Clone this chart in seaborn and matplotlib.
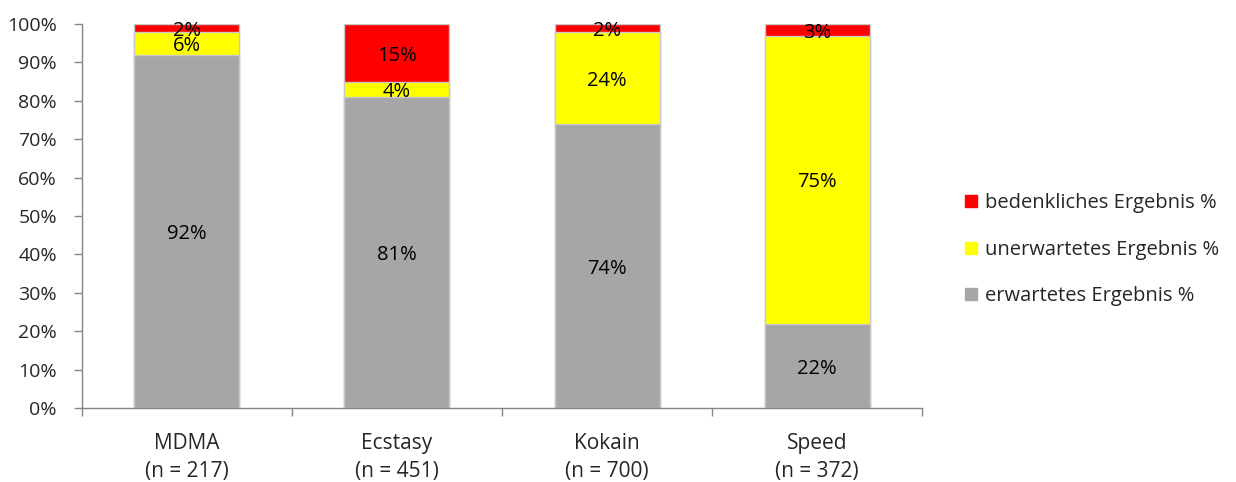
import matplotlib
matplotlib.use("Agg")
import matplotlib.pyplot as plt
from matplotlib.lines import Line2D
from matplotlib.ticker import MultipleLocator, FixedLocator, PercentFormatter
import seaborn as sns
import pandas as pd

# Test results per substance, in percent
substances = ["MDMA\n(n = 217)", "Ecstasy\n(n = 451)", "Kokain\n(n = 700)", "Speed\n(n = 372)"]
erwartet = [92, 81, 74, 22]
unerwartet = [6, 4, 24, 75]
bedenklich = [2, 15, 2, 3]

series_names = ["erwartetes Ergebnis %", "unerwartetes Ergebnis %", "bedenkliches Ergebnis %"]
series_colors = ["#A6A6A6", "#FFFF00", "#FF0000"]

sns.set_theme(style="white")
plt.rcParams["font.family"] = ["Open Sans", "DejaVu Sans"]

df = pd.DataFrame({
    "substance": substances,
    "erwartet": erwartet,
    "unerwartet": unerwartet,
    "bedenklich": bedenklich,
})
df["top_unerwartet"] = df["erwartet"] + df["unerwartet"]
df["top_bedenklich"] = df["top_unerwartet"] + df["bedenklich"]

fig = plt.figure(figsize=(12.36, 4.82), dpi=100)
ax = fig.add_axes([0.0663, 0.1535, 0.6797, 0.7965])

# Stacked bars drawn as overlapping cumulative totals, top layer first
layers = [("top_bedenklich", series_colors[2]),
          ("top_unerwartet", series_colors[1]),
          ("erwartet", series_colors[0])]
for col, color in layers:
    sns.barplot(data=df, x="substance", y=col, color=color, width=0.5,
                edgecolor="#C8C8C8", linewidth=1.0, saturation=1, ax=ax)

# Segment labels centred in each segment
for i in range(len(substances)):
    base = 0
    for val in (erwartet[i], unerwartet[i], bedenklich[i]):
        ax.annotate(f"{val}%", xy=(i, base + val / 2), xytext=(0, -2),
                    textcoords="offset points", ha="center", va="center",
                    fontsize=14.5, color="black")
        base += val

ax.set_ylim(0, 100)
ax.set_xlim(-0.5, len(substances) - 0.5)
ax.yaxis.set_major_locator(MultipleLocator(10))
ax.yaxis.set_major_formatter(PercentFormatter(decimals=0))
ax.set_xlabel("")
ax.set_ylabel("")

for side in ("top", "right"):
    ax.spines[side].set_visible(False)
for side in ("left", "bottom"):
    ax.spines[side].set_color("#868686")
    ax.spines[side].set_linewidth(1.0)

ax.tick_params(axis="y", which="major", left=True, length=6, width=1,
               color="#868686", labelsize=14, pad=12)
ax.tick_params(axis="x", which="major", bottom=False, labelsize=15, pad=12)
ax.xaxis.set_minor_locator(FixedLocator([-0.5, 0.5, 1.5, 2.5, 3.5]))
ax.tick_params(axis="x", which="minor", bottom=True, length=6, width=1,
               color="#868686")
for lbl in ax.get_xticklabels():
    lbl.set_linespacing(1.45)

handles = [Line2D([0], [0], marker="s", linestyle="none", markersize=9,
                  markerfacecolor=c, markeredgecolor=c)
           for c in series_colors[::-1]]
fig.legend(handles, series_names[::-1], loc="center left",
           bbox_to_anchor=(0.763, 0.482), frameon=False, fontsize=14.5,
           handletextpad=0.2, labelspacing=1.3, handlelength=1.0)

fig.savefig("out.png", dpi=100)
